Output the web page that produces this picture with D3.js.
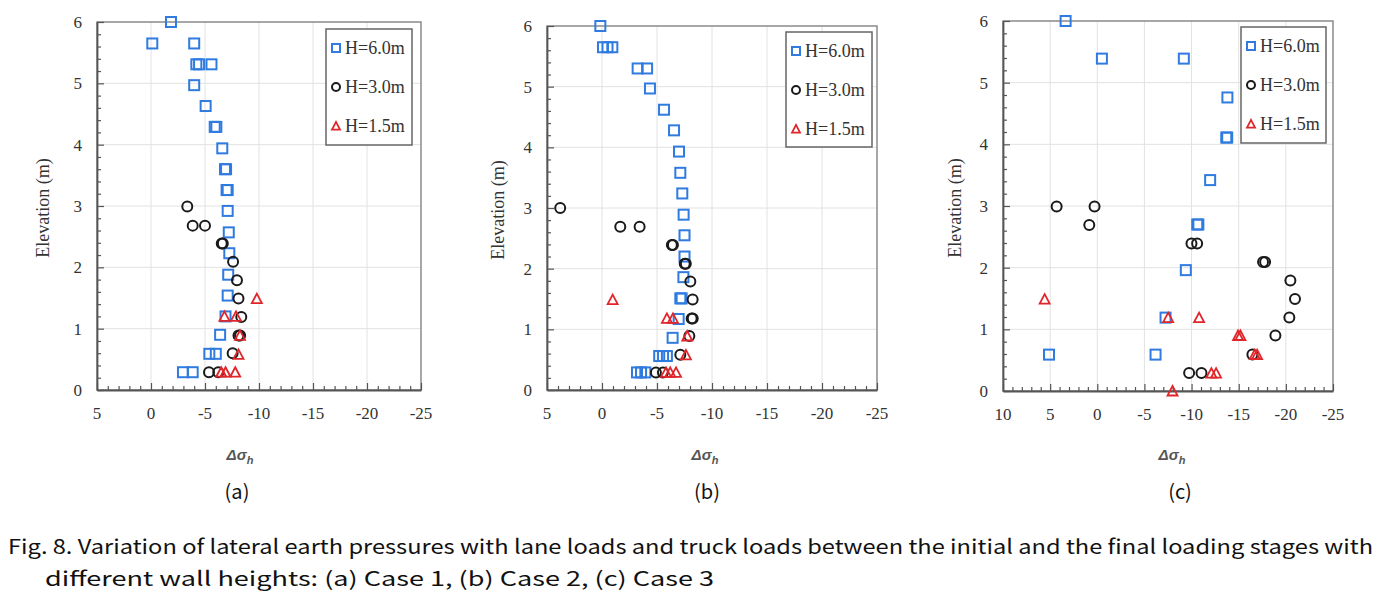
<!DOCTYPE html>
<html><head><meta charset="utf-8">
<script src="https://cdn.jsdelivr.net/npm/d3@7"></script>
<style>body{margin:0;background:#fff}svg{display:block}</style>
</head><body>
<svg id="chart" width="1387" height="593"></svg>
<script>
// ---- data ----
const seriesNames = ["H=6.0m", "H=3.0m", "H=1.5m"];
const xTicksAB = [5, 0, -5, -10, -15, -20, -25];
const xTicksC = [10, 5, 0, -5, -10, -15, -20, -25];
const yTicks = [0, 1, 2, 3, 4, 5, 6];
const panelLabels = ["(a)", "(b)", "(c)"];

const caseA_H60 = [[-1.85,6.0],[-0.12,5.65],[-4.0,5.65],[-4.2,5.31],[-4.45,5.31],[-5.6,5.31],[-4.0,4.97],
  [-5.06,4.63],[-5.9,4.29],[-6.05,4.29],[-6.6,3.94],[-6.85,3.6],[-6.95,3.6],[-7.0,3.26],[-7.1,3.26],[-7.1,2.92],
  [-7.2,2.57],[-7.25,2.23],[-7.15,1.88],[-7.1,1.54],[-6.9,1.2],[-6.4,0.9],[-5.4,0.59],[-6.0,0.59],[-2.96,0.29],[-3.86,0.29]];
const caseA_H30 = [[-3.36,2.99],[-3.86,2.68],[-5.0,2.68],[-6.55,2.39],[-6.65,2.39],[-7.6,2.09],[-7.96,1.79],
  [-8.1,1.49],[-8.36,1.19],[-8.1,0.89],[-8.25,0.89],[-7.56,0.6],[-5.37,0.29],[-6.23,0.29]];
const caseA_H15 = [[-9.8,1.49],[-6.8,1.2],[-7.87,1.2],[-8.24,0.89],[-8.1,0.58],[-6.5,0.29],[-6.9,0.29],[-7.8,0.29]];

const caseB_H60 = [[0.15,6.0],[-0.09,5.65],[-0.5,5.65],[-0.94,5.65],[-3.24,5.3],[-4.1,5.3],[-4.36,4.97],
  [-5.64,4.62],[-6.55,4.28],[-7.0,3.93],[-7.12,3.58],[-7.3,3.24],[-7.42,2.89],[-7.5,2.55],[-7.5,2.2],
  [-7.4,1.86],[-7.12,1.51],[-7.24,1.51],[-6.97,1.17],[-6.42,0.86],[-5.2,0.56],[-5.55,0.56],[-5.9,0.56],
  [-3.18,0.29],[-3.55,0.29],[-3.94,0.29]];
const caseB_H30 = [[3.8,3.0],[-1.66,2.69],[-3.42,2.69],[-6.35,2.39],[-6.45,2.39],[-7.52,2.08],[-7.62,2.08],
  [-8.03,1.79],[-8.24,1.49],[-8.15,1.18],[-8.25,1.18],[-7.94,0.89],[-7.12,0.58],[-4.9,0.29],[-5.54,0.29]];
const caseB_H15 = [[-0.97,1.49],[-5.9,1.18],[-6.45,1.18],[-7.75,0.89],[-7.63,0.58],[-5.82,0.29],[-6.2,0.29],[-6.73,0.29]];

const caseC_H60 = [[3.36,6.0],[-0.49,5.39],[-9.18,5.39],[-13.8,4.76],[-13.68,4.11],[-13.78,4.11],[-11.97,3.42],
  [-10.6,2.7],[-10.72,2.7],[-9.39,1.96],[-7.24,1.19],[-6.18,0.59],[5.12,0.59]];
const caseC_H30 = [[4.31,2.99],[0.29,2.99],[0.85,2.69],[-9.99,2.39],[-10.59,2.39],[-17.58,2.09],[-17.8,2.09],
  [-20.48,1.79],[-20.97,1.49],[-20.37,1.19],[-18.89,0.9],[-16.45,0.59],[-9.74,0.29],[-11.05,0.29]];
const caseC_H15 = [[5.58,1.49],[-7.52,1.19],[-10.8,1.19],[-14.93,0.9],[-15.18,0.9],[-16.7,0.59],[-16.95,0.59],
  [-12.1,0.29],[-12.6,0.29],[-7.98,0.0]];

const captionLine1 = "Fig. 8. Variation of lateral earth pressures with lane loads and truck loads between the initial and the final loading stages with";
const captionLine2 = "different wall heights: (a) Case 1, (b) Case 2, (c) Case 3";

// ---- layout ----
const colors = ["#2f7be0", "#1a1a1a", "#e0262b"];
const panels = [
  {data:[caseA_H60,caseA_H30,caseA_H15], xd:[5,-25], xt:xTicksAB, x0:97, x1:421, y0:390, y1:22, leg:[326,29,86,116], yl:43, xl:240, pl:237},
  {data:[caseB_H60,caseB_H30,caseB_H15], xd:[5,-25], xt:xTicksAB, x0:547, x1:877, y0:390, y1:26, leg:[786,32,86,115], yl:498, xl:705, pl:707},
  {data:[caseC_H60,caseC_H30,caseC_H15], xd:[10,-25], xt:xTicksC, x0:1003, x1:1333, y0:391, y1:21, leg:[1241,27,85,116], yl:955, xl:1172, pl:1180}
];

const svg = d3.select("#chart");
const serif = "'Liberation Serif','Times New Roman',serif";
const sans = "'Noto Sans CJK KR','Liberation Sans',Arial,sans-serif";

function drawMarker(g, type, x, y, s) {
  if (type === 0) {
    g.append("rect").attr("x", x - s/2).attr("y", y - s/2).attr("width", s).attr("height", s)
      .attr("fill", "none").attr("stroke", colors[0]).attr("stroke-width", 2);
  } else if (type === 1) {
    g.append("circle").attr("cx", x).attr("cy", y).attr("r", s/2)
      .attr("fill", "none").attr("stroke", colors[1]).attr("stroke-width", 2);
  } else {
    const h = s * 0.9;
    g.append("path").attr("d", `M${x},${y - h/2 - 0.5}L${x + s/2},${y + h/2}L${x - s/2},${y + h/2}Z`)
      .attr("fill", "none").attr("stroke", colors[2]).attr("stroke-width", 1.8);
  }
}

panels.forEach((p, i) => {
  const x = d3.scaleLinear().domain(p.xd).range([p.x0, p.x1]);
  const y = d3.scaleLinear().domain([0, 6]).range([p.y0, p.y1]);
  const g = svg.append("g");

  // gridlines
  g.selectAll(".gx").data(p.xt.slice(1, -1)).enter().append("line")
    .attr("x1", d => x(d)).attr("x2", d => x(d)).attr("y1", p.y0).attr("y2", p.y1)
    .attr("stroke", "#e2e2e2").attr("stroke-width", 1);
  g.selectAll(".gy").data(yTicks.slice(1, -1)).enter().append("line")
    .attr("x1", p.x0).attr("x2", p.x1).attr("y1", d => y(d)).attr("y2", d => y(d))
    .attr("stroke", "#e2e2e2").attr("stroke-width", 1);

  // frame
  g.append("rect").attr("x", p.x0).attr("y", p.y1).attr("width", p.x1 - p.x0).attr("height", p.y0 - p.y1)
    .attr("fill", "none").attr("stroke", "#8a8a8a").attr("stroke-width", 1.5);

  // bottom axis (ticks inward)
  const xMinor = d3.range(p.xd[1], p.xd[0] + 0.001, 1);
  const ax = d3.axisBottom(x).tickValues(xMinor).tickSize(0).tickFormat("");
  const gxAxis = g.append("g").attr("transform", `translate(0,${p.y0})`).call(ax);
  gxAxis.select(".domain").attr("stroke", "#555").attr("stroke-width", 1.8);
  gxAxis.selectAll(".tick line").attr("y2", d => (d % 5 === 0 ? -7 : -4)).attr("stroke", "#555").attr("stroke-width", 1.2);
  gxAxis.selectAll(".tick text").remove();
  g.selectAll(".xl").data(p.xt).enter().append("text")
    .attr("x", d => x(d)).attr("y", p.y0 + 29).attr("text-anchor", "middle")
    .attr("font-family", serif).attr("font-size", 17).attr("fill", "#333")
    .text(d => d === 0 ? "0" : String(d).replace("\u2212", "-"));

  // left axis (ticks inward)
  const yMinor = d3.range(0, 6.001, 0.2).map(v => +v.toFixed(1));
  const ay = d3.axisLeft(y).tickValues(yMinor).tickSize(0).tickFormat("");
  const gyAxis = g.append("g").attr("transform", `translate(${p.x0},0)`).call(ay);
  gyAxis.select(".domain").attr("stroke", "#555").attr("stroke-width", 1.8);
  gyAxis.selectAll(".tick line").attr("x2", d => (Math.abs(d - Math.round(d)) < 1e-6 ? 7 : 4)).attr("stroke", "#555").attr("stroke-width", 1.2);
  g.selectAll(".yl").data(yTicks).enter().append("text")
    .attr("x", p.x0 - 15).attr("y", d => y(d)).attr("dy", "0.35em").attr("text-anchor", "end")
    .attr("font-family", serif).attr("font-size", 17).attr("fill", "#333").text(d => d);

  // y label
  g.append("text").attr("transform", `translate(${p.yl},${(p.y0 + p.y1) / 2 + 2}) rotate(-90)`)
    .attr("text-anchor", "middle").attr("dy", "0.35em")
    .attr("font-family", serif).attr("font-size", 18).attr("fill", "#333").text("Elevation (m)");

  // x label
  const xt = g.append("text").attr("x", p.xl).attr("y", 460).attr("text-anchor", "middle")
    .attr("font-family", "'Liberation Sans',Arial,sans-serif").attr("font-size", 15)
    .attr("font-style", "italic").attr("font-weight", "bold").attr("fill", "#555");
  xt.append("tspan").text("\u0394\u03c3");
  xt.append("tspan").attr("dy", 4).attr("font-size", 11).text("h");

  // panel label
  g.append("text").attr("x", p.pl).attr("y", 499).attr("text-anchor", "middle")
    .attr("font-family", sans).attr("font-size", 20).attr("fill", "#111").text(panelLabels[i]);

  // markers
  p.data.forEach((ser, k) => {
    const mg = g.append("g");
    ser.forEach(d => drawMarker(mg, k, x(d[0]), y(d[1]), k === 1 ? 10 : 10));
  });

  // legend
  const [lx, ly, lw, lh] = p.leg;
  g.append("rect").attr("x", lx).attr("y", ly).attr("width", lw).attr("height", lh)
    .attr("fill", "#fff").attr("stroke", "#666").attr("stroke-width", 1.5);
  seriesNames.forEach((nm, k) => {
    const cy = ly + 19 + k * 39;
    drawMarker(g, k, lx + 10, cy, 8);
    g.append("text").attr("x", lx + 19).attr("y", cy).attr("dy", "0.35em")
      .attr("font-family", serif).attr("font-size", 18).attr("fill", "#333").text(nm);
  });
});

// caption
svg.append("text").attr("x", 8).attr("y", 554).attr("font-family", sans).attr("font-size", 20)
  .attr("fill", "#111").attr("textLength", 1365).attr("lengthAdjust", "spacingAndGlyphs").text(captionLine1);
svg.append("text").attr("x", 45).attr("y", 586).attr("font-family", sans).attr("font-size", 20)
  .attr("fill", "#111").attr("textLength", 669).attr("lengthAdjust", "spacingAndGlyphs").text(captionLine2);
</script>
</body></html>
